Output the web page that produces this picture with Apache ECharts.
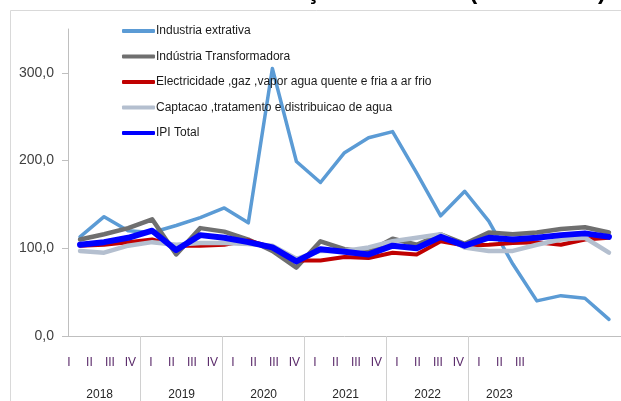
<!DOCTYPE html>
<html>
<head>
<meta charset="utf-8">
<script src="https://cdn.jsdelivr.net/npm/echarts@6/dist/echarts.min.js"></script>
<style>
  html, body { margin: 0; padding: 0; background: #fff; }
  #mainChart { width: 621px; height: 401px; }
</style>
</head>
<body>
<div id="mainChart"></div>
<script>
// trimestres e anos
var quarters = ['I', 'II', 'III', 'IV', 'I', 'II', 'III', 'IV', 'I', 'II', 'III', 'IV',
  'I', 'II', 'III', 'IV', 'I', 'II', 'III', 'IV', 'I', 'II', 'III']
var years = ['2018', '2019', '2020', '2021', '2022', '2023']
var yearCenters = [2, 6, 10, 14, 18, 21.5]
var yearBreaks = [4, 8, 12, 16, 20]
var yTicks = ['0,0', '100,0', '200,0', '300,0']

// series
var extrativa = [113, 136, 120, 118, 126, 135, 146, 129, 305, 199, 175, 209, 226, 233, 186, 137, 165, 131, 82, 40, 46, 43, 19]
var transformadora = [110, 116, 123, 133, 93, 123, 119, 110, 97, 78, 108, 99, 96, 111, 104, 116, 105, 118, 116, 118, 122, 124, 118]
var electricidade = [103, 104, 107, 110, 103, 103, 104, 109, 101, 86, 86, 90, 89, 95, 93, 108, 103, 104, 106, 107, 104, 110, 112]
var captacao = [97, 95, 103, 107, 104, 106, 106, 105, 103, 88, 97, 97, 101, 108, 112, 116, 101, 97, 97, 104, 110, 112, 95]
var ipiTotal = [104, 107, 112, 120, 98, 115, 112, 107, 101, 85, 99, 96, 93, 103, 100, 113, 103, 112, 110, 112, 115, 117, 113]

var names = [
  'Industria extrativa',
  'Indústria Transformadora',
  'Electricidade ,gaz ,vapor agua quente e fria a ar frio',
  'Captacao ,tratamento e distribuicao de agua',
  'IPI Total'
]

var narrow = '"Liberation Sans Narrow", "Liberation Sans", sans-serif'

function line (name, data, color, width) {
  return {
    name: name,
    type: 'line',
    data: data,
    symbol: 'none',
    xAxisIndex: 0,
    yAxisIndex: 0,
    lineStyle: { color: color, width: width, cap: 'round', join: 'round' },
    itemStyle: { color: color }
  }
}

var chartReport = echarts.init(document.getElementById('mainChart'))

var option = {
  animation: false,
  backgroundColor: '#fff',
  graphic: [
    {
      type: 'rect',
      shape: { x: 10.5, y: 10.5, width: 700, height: 500 },
      style: { fill: 'none', stroke: '#d9d9d9', lineWidth: 1 },
      z: -1
    },
    {
      type: 'text',
      x: 606,
      y: 4,
      style: {
        text: 'Índice de Produção Industrial (2017 = 100)',
        font: 'bold 24px "Liberation Sans", sans-serif',
        fill: '#000',
        align: 'right',
        verticalAlign: 'bottom'
      }
    }
  ],
  legend: {
    orient: 'vertical',
    left: 117,
    top: 20,
    itemWidth: 33,
    itemHeight: 4,
    itemGap: 13.5,
    icon: 'roundRect',
    data: names,
    textStyle: { fontFamily: narrow, fontSize: 12, color: '#1a1a1a', padding: [0, 0, 0, -4] }
  },
  grid: [
    { left: 68, right: -9, top: 29, bottom: 65 },
    { left: 58.7, width: 471.5, top: 29, bottom: 65 },
    { left: 58.7, width: 471.5, top: 29, bottom: 65 }
  ],
  xAxis: [
    {
      type: 'category',
      gridIndex: 0,
      data: quarters,
      boundaryGap: true,
      axisLine: { lineStyle: { color: '#bfbfbf', width: 1 } },
      axisTick: { show: false },
      axisLabel: { show: false }
    },
    {
      type: 'value',
      gridIndex: 1,
      min: 0,
      max: 23,
      axisLine: { show: false },
      splitLine: { show: false },
      axisTick: {
        show: true,
        customValues: yearBreaks,
        length: 66,
        lineStyle: { color: '#d0d0d0', width: 1 }
      },
      axisLabel: {
        customValues: quarters.map(function (q, i) { return i + 0.5 }),
        formatter: function (v) { return quarters[Math.floor(v)] },
        margin: 21,
        fontFamily: narrow,
        fontSize: 12,
        color: '#5a2a6a'
      }
    },
    {
      type: 'value',
      gridIndex: 2,
      min: 0,
      max: 23,
      axisLine: { show: false },
      splitLine: { show: false },
      axisTick: { show: false },
      axisLabel: {
        customValues: yearCenters,
        formatter: function (v) { return years[yearCenters.indexOf(v)] },
        margin: 55,
        fontFamily: narrow,
        fontSize: 12,
        color: '#262626'
      }
    }
  ],
  yAxis: [
    {
      type: 'value',
      gridIndex: 0,
      min: 0,
      max: 350,
      interval: 100,
      splitLine: { show: false },
      axisLine: { show: true, lineStyle: { color: '#bfbfbf', width: 1 } },
      axisTick: { show: true, length: 6, lineStyle: { color: '#bfbfbf' } },
      axisLabel: {
        showMaxLabel: false,
        margin: 14,
        fontFamily: '"Liberation Sans", sans-serif',
        fontSize: 14,
        color: '#404040',
        formatter: function (v) { return yTicks[v / 100] }
      }
    },
    { type: 'value', gridIndex: 1, show: false },
    { type: 'value', gridIndex: 2, show: false }
  ],
  series: [
    line(names[0], extrativa, '#5b9bd5', 3.5),
    line(names[1], transformadora, '#6f6f6f', 4.5),
    line(names[2], electricidade, '#c00000', 4),
    line(names[3], captacao, '#b4bfcf', 4.5),
    line(names[4], ipiTotal, '#0000ff', 6)
  ]
}

chartReport.setOption(option)
</script>
</body>
</html>
